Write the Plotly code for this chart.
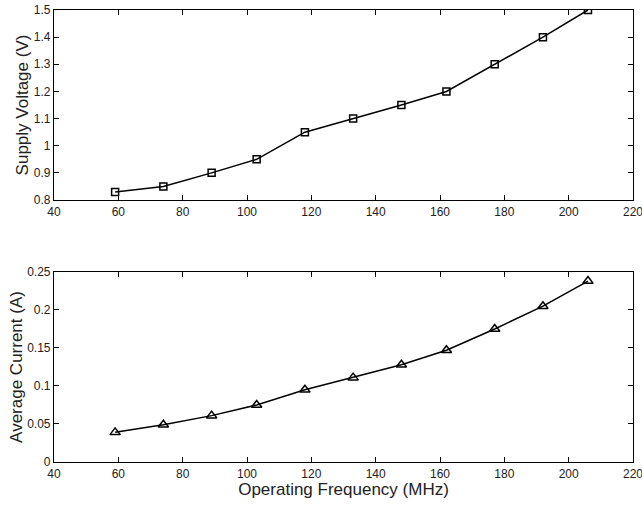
import plotly.graph_objects as go
from plotly.subplots import make_subplots

freq = [59, 74, 89, 103, 118, 133, 148, 162, 177, 192, 206]
voltage = [0.83, 0.85, 0.90, 0.95, 1.05, 1.10, 1.15, 1.20, 1.30, 1.40, 1.50]
current = [0.039, 0.049, 0.061, 0.075, 0.095, 0.111, 0.128, 0.147, 0.175, 0.205, 0.238]

FONT = "Liberation Sans, Arial"

fig = make_subplots(rows=2, cols=1, vertical_spacing=0.16)
fig.add_trace(go.Scatter(x=freq, y=voltage, mode="lines+markers",
                         line=dict(color="black", width=1.5),
                         marker=dict(symbol="square-open", size=7, color="black", line=dict(width=1.5))),
              row=1, col=1)
fig.add_trace(go.Scatter(x=freq, y=current, mode="lines+markers",
                         line=dict(color="black", width=1.5),
                         marker=dict(symbol="triangle-up-open", size=9, color="black", line=dict(width=1.5))),
              row=2, col=1)

axis_common = dict(showline=True, linecolor="black", linewidth=1.2, mirror="ticks",
                   ticks="inside", ticklen=5, tickcolor="black", showgrid=False, zeroline=False,
                   automargin=False, ticklabeloverflow="allow",
                   tickfont=dict(family=FONT, size=12, color="#222"))

fig.update_xaxes(range=[40, 220], dtick=20, **axis_common)
fig.update_yaxes(**axis_common)
fig.update_yaxes(range=[0.8, 1.5], tickvals=[0.8, 0.9, 1, 1.1, 1.2, 1.3, 1.4, 1.5],
                 ticktext=["0.8", "0.9", "1", "1.1", "1.2", "1.3", "1.4", "1.5"],
                 title=dict(text="Supply Voltage (V)", font=dict(family=FONT, size=17, color="#222"), standoff=0),
                 row=1, col=1)
fig.update_yaxes(range=[0, 0.25], tickvals=[0, 0.05, 0.1, 0.15, 0.2, 0.25],
                 ticktext=["0", "0.05", "0.1", "0.15", "0.2", "0.25"],
                 title=dict(text="Average Current (A)", font=dict(family=FONT, size=17, color="#222"), standoff=0),
                 row=2, col=1)
fig.update_xaxes(title=dict(text="Operating Frequency (MHz)", font=dict(family=FONT, size=17, color="#222"), standoff=0),
                 row=2, col=1)

fig.update_layout(
    width=642, height=505,
    margin=dict(l=54, r=9, t=10, b=43),
    plot_bgcolor="white", paper_bgcolor="white",
    showlegend=False,
)
fig.layout.yaxis.domain = [0.5796, 1.0]
fig.layout.yaxis2.domain = [0.0, 0.4204]

fig.write_html("out.html", config={"displayModeBar": False},
               post_script="document.body.style.margin='0';")
